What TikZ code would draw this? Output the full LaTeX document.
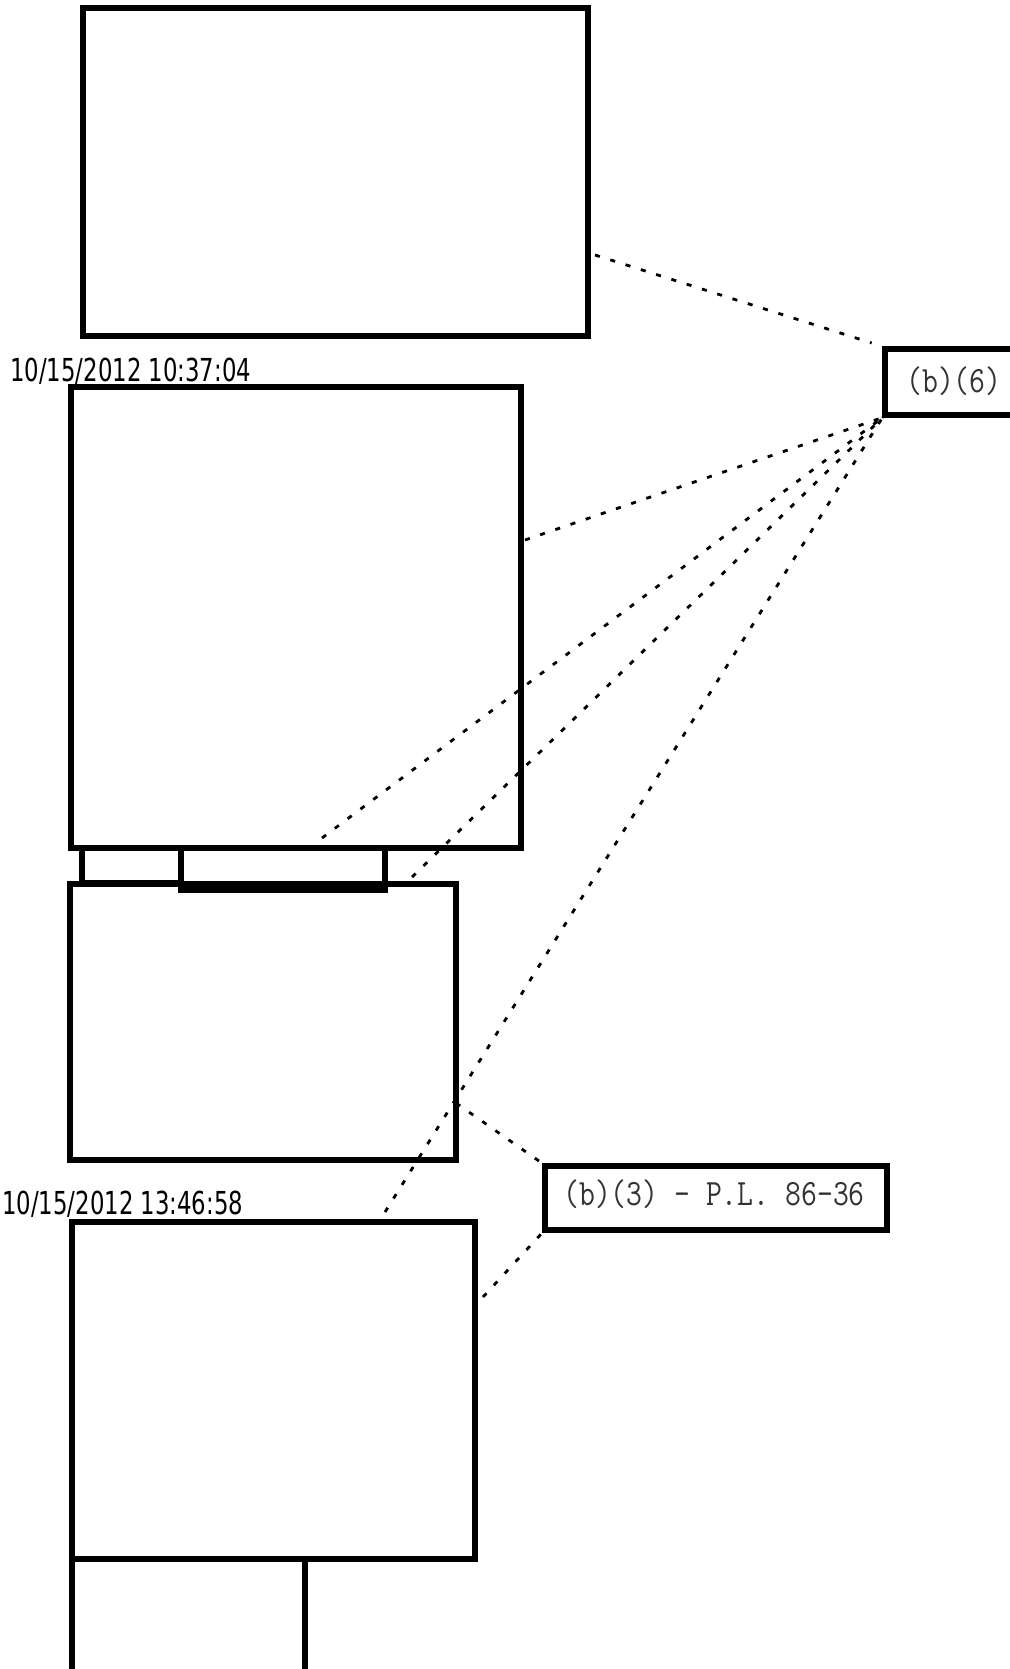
\documentclass[tikz,border=0pt]{standalone}
\usepackage{fontspec}
\newfontfamily\stampfont{DejaVu Sans}
\usetikzlibrary{fit}
\newcommand{\squeeze}[1]{\scalebox{0.72}[1]{#1}}
\newcommand{\squeezett}[1]{\scalebox{0.83}[1]{#1}}

\tikzset{
  panel/.style={draw, line width=3.7pt, inner sep=0pt},
  tag/.style={draw, line width=3.7pt, inner sep=0pt},
  stamp/.style={anchor=base west, inner sep=0pt, font=\stampfont\fontsize{22.5}{25}\selectfont},
  code/.style={anchor=base west, inner sep=0pt, text=black!80, font=\ttfamily\fontsize{26.4}{29}\selectfont},
  leader/.style={line width=2pt, dash pattern=on 3.6pt off 7.8pt}
}

\begin{document}
\begin{tikzpicture}[x=0.025cm, y=-0.025cm]
  \useasboundingbox (0,0) rectangle (1010,1669);
  \clip (0,0) rectangle (1010,1669);
  % frames
  \node[panel, fit={(83,8)(588,336)}] (boxA) {};
  \node[panel, fit={(71,387)(521,848)}] (boxB) {};
  \node[panel, fit={(82,848)(181,883)}] (stripL) {};
  \node[panel, fit={(181,848)(385,890)}] (stripM) {};
  \node[panel, fit={(70,884)(456,1160)}] (boxC) {};
  \node[panel, fit={(72,1222)(475,1559)}] (boxD) {};
  \node[panel, fit={(72,1559)(305,1700)}] (boxE) {};
  % time stamps
  \node[stamp] (stamp1) at (10,381) {\squeeze{10/15/2012 10:37:04}};
  \node[stamp] (stamp2) at (2,1214) {\squeeze{10/15/2012 13:46:58}};
  % redaction tags
  \node[tag, fit={(885,349)(1040,415)}] (tagSix) {};
  \node[code] (txtSix) at (906,392) {\squeezett{(b)(6)}};
  \node[tag, fit={(545,1166)(887,1230)}] (tagThree) {};
  \node[code] (txtThree) at (563,1205) {\squeezett{(b)(3) - P.L. 86-36}};
  % leader ends
  \coordinate (s1) at (595,255);
  \coordinate (s2) at (525,540);
  \coordinate (s3) at (322,838);
  \coordinate (s4) at (412,877);
  \coordinate (s5) at (385,1212);
  \coordinate (s6) at (456,1103);
  \coordinate (s7) at (483,1297);
  % leaders
  \draw[leader, shorten >=8pt] (s1) -- (tagSix.north west);
  \foreach \s in {s2,s3,s4,s5}
    \draw[leader] (\s) -- (tagSix.south west);
  \draw[leader] (s6) -- (tagThree.north west);
  \draw[leader] (s7) -- (tagThree.south west);
\end{tikzpicture}
\end{document}
